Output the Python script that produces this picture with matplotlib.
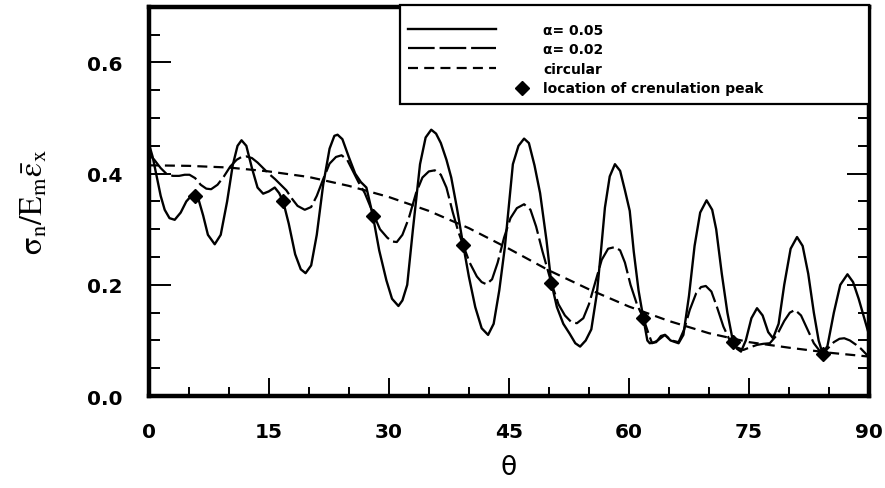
import numpy as np
import matplotlib
matplotlib.use("Agg")
import matplotlib.pyplot as plt
from matplotlib.legend_handler import HandlerLine2D
from matplotlib.ticker import MultipleLocator

plt.rcParams['font.family'] = ['DejaVu Sans']
plt.rcParams['mathtext.fontset'] = 'stix'

# alpha = 0.05 (solid)
theta_a05 = [0.0, 0.5, 1.0, 1.5, 2.0, 2.6, 3.25, 4.0, 4.7, 5.5, 6.2, 6.8, 7.4, 8.25,
             9.0, 9.8, 10.5, 11.1, 11.6, 12.2, 12.9, 13.6, 14.3, 15.0, 15.75, 16.3,
             16.8, 17.5, 18.3, 19.0, 19.6, 20.3, 21.0, 21.8, 22.6, 23.2, 23.6, 24.2,
             25.0, 25.8, 26.5, 27.2, 28.0, 28.8, 29.7, 30.4, 31.2, 31.7, 32.3, 33.0,
             33.9, 34.6, 35.3, 35.9, 36.5, 37.2, 37.8, 38.5, 39.3, 40.0, 40.8, 41.6,
             42.4, 43.1, 43.8, 44.5, 45.5, 46.2, 46.9, 47.5, 48.2, 48.9, 49.7, 50.3,
             51.0, 51.8, 52.6, 53.3, 53.9, 54.6, 55.3, 56.0, 56.5, 57.0, 57.6, 58.25,
             58.9, 59.5, 60.1, 60.6, 61.2, 61.8, 62.3, 62.6, 63.4, 64.0, 64.5, 65.2,
             66.2, 66.8, 67.5, 68.2, 68.9, 69.7, 70.4, 70.9, 71.6, 72.3, 73.0, 73.5,
             74.0, 74.6, 75.3, 76.0, 76.7, 77.4, 78.0, 78.7, 79.4, 80.2, 81.0, 81.7,
             82.4, 83.1, 83.7, 84.2, 84.8, 85.6, 86.4, 87.3, 88.0, 88.7, 89.3, 90.0]
sigma_a05 = [0.455, 0.430, 0.395, 0.360, 0.335, 0.320, 0.317, 0.330, 0.350, 0.363, 0.355,
             0.325, 0.290, 0.273, 0.290, 0.350, 0.415, 0.450, 0.460, 0.450, 0.410, 0.375,
             0.364, 0.368, 0.375, 0.365, 0.350, 0.310, 0.255, 0.228, 0.221, 0.235, 0.290,
             0.380, 0.445, 0.468, 0.470, 0.462, 0.430, 0.400, 0.385, 0.375, 0.325, 0.262,
             0.208, 0.175, 0.162, 0.172, 0.200, 0.298, 0.417, 0.465, 0.479, 0.472, 0.455,
             0.425, 0.393, 0.339, 0.271, 0.215, 0.160, 0.122, 0.110, 0.130, 0.190, 0.268,
             0.417, 0.450, 0.463, 0.455, 0.415, 0.365, 0.280, 0.204, 0.160, 0.130, 0.112,
             0.095, 0.089, 0.100, 0.120, 0.185, 0.260, 0.339, 0.395, 0.417, 0.405, 0.370,
             0.333, 0.260, 0.190, 0.140, 0.100, 0.095, 0.097, 0.108, 0.110, 0.100, 0.095,
             0.110, 0.180, 0.270, 0.330, 0.352, 0.335, 0.300, 0.220, 0.150, 0.098, 0.085,
             0.080, 0.100, 0.140, 0.158, 0.145, 0.115, 0.104, 0.130, 0.200, 0.265, 0.286,
             0.270, 0.220, 0.150, 0.100, 0.076, 0.090, 0.150, 0.200, 0.219, 0.205, 0.175,
             0.145, 0.110]

# alpha = 0.02 (long dash)
theta_a02 = [0.0, 0.7, 1.5, 2.2, 3.0, 3.8, 4.5, 5.1, 5.8, 6.5, 7.2, 7.8, 8.6, 9.4, 10.2,
             11.0, 11.6, 12.2, 12.9, 13.6, 14.3, 15.0, 15.8, 16.5, 17.2, 17.9, 18.6,
             19.5, 20.3, 21.0, 21.8, 22.6, 23.4, 24.1, 24.8, 25.5, 26.2, 27.0, 28.0,
             28.9, 29.8, 30.4, 31.0, 31.7, 32.5, 33.4, 34.2, 35.0, 35.75, 36.5, 37.2,
             38.0, 38.7, 39.3, 40.1, 41.0, 41.6, 42.2, 42.9, 43.6, 44.4, 45.2, 46.0,
             46.9, 47.7, 48.4, 49.2, 50.3, 51.2, 52.0, 52.8, 53.5, 54.3, 55.0, 55.8,
             56.6, 57.4, 58.25, 58.9, 59.5, 60.2, 61.0, 61.8, 62.5, 62.9, 63.6, 64.5,
             65.3, 66.2, 66.9, 67.6, 68.4, 69.0, 69.6, 70.3, 71.0, 71.8, 72.6, 73.4,
             74.3, 75.2, 76.0, 76.8, 77.6, 78.5, 79.4, 80.1, 80.75, 81.5, 82.3, 83.1,
             84.0, 84.8, 85.6, 86.3, 86.9, 87.6, 88.4, 89.0, 90.0]
sigma_a02 = [0.435, 0.425, 0.410, 0.400, 0.396, 0.396, 0.398, 0.398, 0.392, 0.380, 0.373,
             0.372, 0.380, 0.395, 0.413, 0.425, 0.430, 0.431, 0.428, 0.420, 0.410, 0.400,
             0.390, 0.380, 0.370, 0.355, 0.342, 0.335, 0.340, 0.360, 0.390, 0.418, 0.430,
             0.433, 0.425, 0.405, 0.385, 0.365, 0.330, 0.300, 0.285, 0.278, 0.277, 0.290,
             0.320, 0.365, 0.393, 0.404, 0.406, 0.398, 0.375, 0.330, 0.295, 0.271, 0.240,
             0.215, 0.205, 0.201, 0.210, 0.240, 0.285, 0.320, 0.338, 0.345, 0.335, 0.305,
             0.260, 0.204, 0.165, 0.145, 0.133, 0.131, 0.140, 0.165, 0.205, 0.245, 0.265,
             0.268, 0.262, 0.240, 0.200, 0.165, 0.140, 0.110, 0.095, 0.100, 0.110, 0.100,
             0.097, 0.120, 0.155, 0.185, 0.196, 0.198, 0.188, 0.160, 0.125, 0.100, 0.088,
             0.083, 0.088, 0.092, 0.094, 0.095, 0.110, 0.135, 0.150, 0.155, 0.145, 0.120,
             0.095, 0.078, 0.085, 0.097, 0.103, 0.104, 0.100, 0.092, 0.085, 0.070]

# circular (short dash)
theta_circ = [0, 5, 10, 15, 20, 25, 30, 35, 40, 45, 50, 55, 60, 65, 70, 75, 80, 85, 90]
sigma_circ = [0.415, 0.414, 0.411, 0.404, 0.394, 0.378, 0.358, 0.333, 0.302, 0.265,
              0.226, 0.192, 0.161, 0.135, 0.113, 0.097, 0.087, 0.078, 0.071]

# crenulation peak locations
theta_peak = [5.75, 16.8, 28.0, 39.3, 50.3, 61.8, 73.0, 84.2]
sigma_peak = [0.360, 0.350, 0.324, 0.271, 0.204, 0.140, 0.098, 0.076]


class MarkerRight(HandlerLine2D):
    # puts the diamond just left of the label text
    def get_xdata(self, legend, xdescent, ydescent, width, height, fontsize):
        x = -xdescent + width + 1.9 * fontsize
        return np.array([x, x]), np.array([x])


fig = plt.figure(figsize=(8.85, 4.89), dpi=100)
ax = fig.add_axes([0.168, 0.188, 0.814, 0.796])

l1, = ax.plot(theta_a05, sigma_a05, color='k', lw=1.7, label='α= 0.05')
l2, = ax.plot(theta_a02, sigma_a02, color='k', lw=1.6, dashes=(12, 2.2), label='α= 0.02')
l3, = ax.plot(theta_circ, sigma_circ, color='k', lw=1.6, dashes=(4.5, 2.8), label='circular')
l4, = ax.plot(theta_peak, sigma_peak, ls='none', marker='D', color='k', ms=7,
              label='location of crenulation peak')

ax.set_xlim(0, 90)
ax.set_ylim(0, 0.70)
ax.xaxis.set_major_locator(MultipleLocator(15))
ax.xaxis.set_minor_locator(MultipleLocator(5))
ax.yaxis.set_major_locator(MultipleLocator(0.2))
ax.yaxis.set_minor_locator(MultipleLocator(0.05))
ax.yaxis.set_major_formatter(plt.FormatStrFormatter('%.1f'))

ax.tick_params(axis='both', which='both', direction='in', width=1.4, top=False, right=True)
ax.tick_params(axis='x', which='major', length=13, pad=19, labelsize=14.5)
ax.tick_params(axis='x', which='minor', length=6.5)
ax.tick_params(axis='y', which='major', length=16, pad=19, labelsize=14.5)
ax.tick_params(axis='y', which='minor', length=8)
for lab in ax.get_xticklabels() + ax.get_yticklabels():
    lab.set_fontweight('bold')
for s in ax.spines.values():
    s.set_linewidth(3.2)

ax.set_xlabel('θ', fontsize=19)
ax.xaxis.set_label_coords(0.5, -0.15)
ax.set_ylabel(r'$\mathrm{\sigma_n/E_m\bar{\varepsilon}_x}$', fontsize=23)
ax.yaxis.set_label_coords(-0.137, 0.5)

leg = ax.legend(handles=[l1, l2, l3, l4], loc='upper left',
                bbox_to_anchor=(0.349, 0.0, 0.651, 1.005), mode='expand',
                borderaxespad=0, fancybox=False, framealpha=1, edgecolor='k',
                handlelength=6.3, handletextpad=3.4, labelspacing=0.4,
                borderpad=0.6, handler_map={l4: MarkerRight(numpoints=1)},
                prop={'weight': 'bold', 'size': 10}, title=' ', title_fontsize=2)
leg.get_frame().set_linewidth(1.6)

fig.savefig('out.png', dpi=100)
